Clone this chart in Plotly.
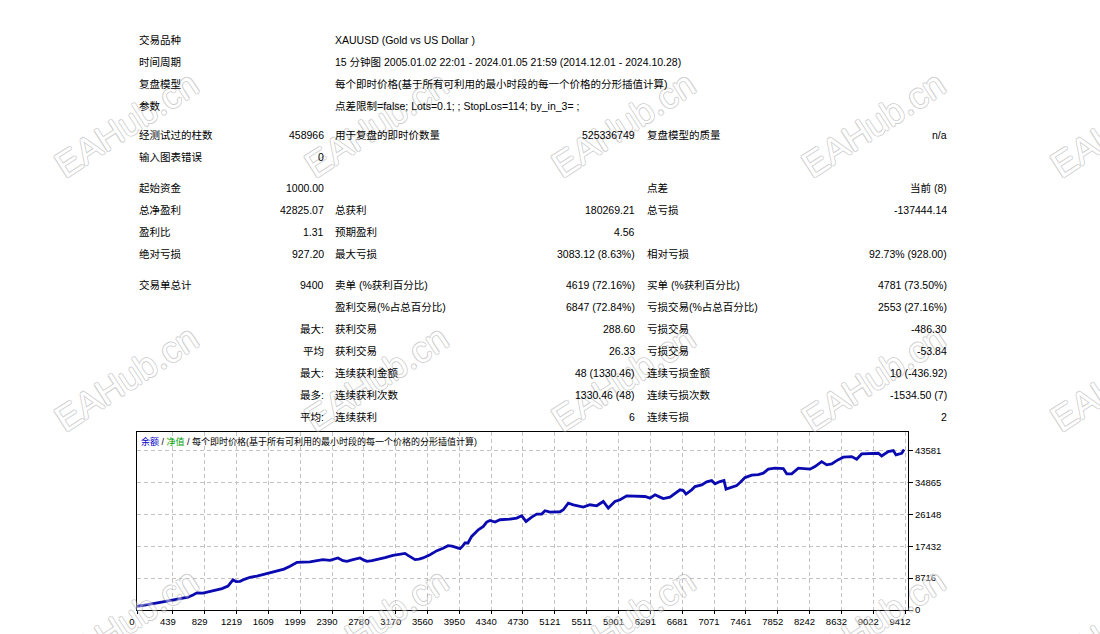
import plotly.graph_objects as go

# balance curve (trade number, balance)
trade_no = [0, 49, 98, 159, 233, 319, 404, 527, 625, 686, 735, 809, 895, 968, 1042, 1115,
            1176, 1213, 1262, 1324, 1385, 1470, 1544, 1630, 1716, 1801, 1875, 1961, 2034,
            2120, 2206, 2279, 2365, 2463, 2524, 2573, 2647, 2733, 2782, 2819, 2880, 2941,
            3039, 3137, 3223, 3284, 3321, 3370, 3407, 3456, 3505, 3591, 3676, 3750, 3811,
            3860, 3897, 3958, 3995, 4019, 4056, 4101, 4182, 4244, 4285, 4326, 4387, 4448,
            4571, 4653, 4714, 4767, 4837, 4898, 4959, 5000, 5061, 5184, 5224, 5285, 5347,
            5408, 5469, 5551, 5633, 5714, 5775, 5857, 5919, 6001, 6123, 6225, 6286, 6348,
            6409, 6449, 6531, 6593, 6654, 6694, 6727, 6797, 6838, 6920, 6981, 7042, 7083,
            7144, 7193, 7218, 7288, 7349, 7390, 7451, 7533, 7614, 7675, 7736, 7818, 7920,
            7962, 8023, 8104, 8186, 8247, 8308, 8390, 8452, 8513, 8574, 8655, 8758, 8819,
            8880, 8982, 9084, 9125, 9206, 9268, 9301, 9371, 9400]
balance = [1000, 1150, 1362, 1498, 1907, 2234, 2588, 3133, 3487, 4086, 4685, 4631, 5121, 5448,
           5857, 6538, 8226, 7763, 7845, 8444, 8935, 9262, 9670, 10079, 10569, 11168, 11931,
           13021, 13075, 13130, 13484, 13756, 13566, 14219, 13484, 13293, 13756, 14219, 13620,
           13293, 13484, 13756, 14301, 14928, 15254, 15472, 14928, 14165, 13756, 13892, 14219,
           15118, 16208, 16889, 17570, 17434, 17107, 16753, 17570, 18305, 18305, 20103, 21928,
           22827, 24026, 24462, 24026, 24652, 24843, 25115, 25742, 24189, 25388, 26205, 26205,
           27104, 26750, 26832, 27376, 29201, 28738, 28466, 28112, 28738, 28466, 29637, 27839,
           29637, 30100, 31190, 31190, 30999, 30563, 31462, 30836, 30454, 30836, 31925, 32824,
           32634, 31653, 32824, 33723, 34186, 35003, 35358, 34459, 35085, 35358, 33015, 33451,
           33995, 34813, 36175, 36829, 36992, 37373, 38463, 38735, 38626, 37183, 37183, 38735,
           38545, 38463, 39171, 40533, 39635, 39907, 40806, 41732, 41895, 41187, 42631, 42822,
           42822, 42086, 43257, 43530, 42359, 42822, 43825]

x_ticks = [0, 439, 829, 1219, 1609, 1999, 2390, 2780, 3170, 3560, 3950, 4340, 4730, 5121,
           5511, 5901, 6291, 6681, 7071, 7461, 7852, 8242, 8632, 9022, 9412]
y_ticks = [0, 8716, 17432, 26148, 34865, 43581]

info_labels = ["交易品种", "时间周期", "复盘模型", "参数"]
info_values = ["XAUUSD (Gold vs US Dollar )",
               "15 分钟图 2005.01.02 22:01 - 2024.01.05 21:59 (2014.12.01 - 2024.10.28)",
               "每个即时价格(基于所有可利用的最小时段的每一个价格的分形插值计算)",
               "点差限制=false; Lots=0.1; ; StopLos=114; by_in_3= ;"]

stat_rows = [
    ["经测试过的柱数", "458966", "用于复盘的即时价数量", "525336749", "复盘模型的质量", "n/a"],
    ["输入图表错误", "0", "", "", "", ""],
    ["起始资金", "1000.00", "", "", "点差", "当前 (8)"],
    ["总净盈利", "42825.07", "总获利", "180269.21", "总亏损", "-137444.14"],
    ["盈利比", "1.31", "预期盈利", "4.56", "", ""],
    ["绝对亏损", "927.20", "最大亏损", "3083.12 (8.63%)", "相对亏损", "92.73% (928.00)"],
    ["交易单总计", "9400", "卖单 (%获利百分比)", "4619 (72.16%)", "买单 (%获利百分比)", "4781 (73.50%)"],
    ["", "", "盈利交易(%占总百分比)", "6847 (72.84%)", "亏损交易(%占总百分比)", "2553 (27.16%)"],
    ["", "最大:", "获利交易", "288.60", "亏损交易", "-486.30"],
    ["", "平均", "获利交易", "26.33", "亏损交易", "-53.84"],
    ["", "最大:", "连续获利金额", "48 (1330.46)", "连续亏损金额", "10 (-436.92)"],
    ["", "最多:", "连续获利次数", "1330.46 (48)", "连续亏损次数", "-1534.50 (7)"],
    ["", "平均:", "连续获利", "6", "连续亏损", "2"],
]

# page geometry (pixels)
W, H = 1100, 634
L, R, T, B = 137, 908, 432, 610
FONT = "Liberation Sans, Noto Sans CJK SC, sans-serif"
info_y = [40, 62, 84, 106]
row_y = [135, 157, 188, 210, 232, 254, 285, 307, 329, 351, 373, 395, 417]
col_x = [137, 326, 333, 637, 645, 949]
col_anchor = ["left", "right", "left", "right", "left", "right"]


def fx(x):
    return (x - L) / (R - L)


def fy(y):
    return (B - y) / (B - T)


def txt(s, x, y, anchor="left", size=10.5, color="#000000", family=FONT):
    return dict(text=s, x=fx(x), y=fy(y), xref="paper", yref="paper", showarrow=False,
                xanchor=anchor, yanchor="middle", align=anchor,
                font=dict(family=family, size=size, color=color))


annotations = []

# watermark first so the report text lies on top
outline = "1px 0 0 #8c8c8c, -1px 0 0 #8c8c8c, 0 1px 0 #8c8c8c, 0 -1px 0 #8c8c8c"
for cy in [124, 378, 621]:
    for cx in [126, 376, 623, 873, 1122]:
        annotations.append(dict(text="EAHub.cn", x=fx(cx), y=fy(cy), xref="paper", yref="paper",
                                showarrow=False, textangle=-33, xanchor="center", yanchor="middle",
                                opacity=0.42,
                                font=dict(family="Liberation Sans", size=36, color="white",
                                          shadow=outline)))

for lab, val, y in zip(info_labels, info_values, info_y):
    annotations.append(txt(lab, 137, y))
    annotations.append(txt(val, 333, y))

for row, y in zip(stat_rows, row_y):
    for s, x, a in zip(row, col_x, col_anchor):
        if s:
            annotations.append(txt(s, x, y, a))

legend = ("<span style='color:#0000c8'>余额</span> / "
          "<span style='color:#00a000'>净值</span> / "
          "每个即时价格(基于所有可利用的最小时段的每一个价格的分形插值计算)")
annotations.append(txt(legend, 139, 441, size=9))

fig = go.Figure()
fig.add_trace(go.Scatter(x=trade_no, y=balance, mode="lines",
                         line=dict(color="#0a0ab0", width=2.8), hoverinfo="skip"))

fig.update_layout(
    width=W, height=H,
    margin=dict(l=L, r=W - R, t=T, b=H - B, pad=0, autoexpand=False),
    paper_bgcolor="white", plot_bgcolor="white",
    showlegend=False,
    annotations=annotations,
)
fig.update_xaxes(range=[0, 9448], tickvals=x_ticks, tickformat="d", ticks="outside", ticklen=3,
                 tickcolor="black", ticklabelshift=-5, automargin=False,
                 tickfont=dict(family="Liberation Sans", size=9.5, color="black"),
                 showgrid=True, gridcolor="#c3c3c3", griddash="4px,3px", gridwidth=1,
                 showline=True, mirror=True, linecolor="black", linewidth=1, zeroline=False)
fig.update_yaxes(range=[0, 48620], tickvals=y_ticks, tickformat="d", side="right",
                 ticks="outside", ticklen=4, tickcolor="black", automargin=False,
                 tickfont=dict(family="Liberation Sans", size=9.5, color="black"),
                 showgrid=True, gridcolor="#c3c3c3", griddash="4px,3px", gridwidth=1,
                 showline=True, mirror=True, linecolor="black", linewidth=1, zeroline=False)

fig.write_html("out.html", config={"displayModeBar": False},
               post_script="document.body.style.margin='0';")
